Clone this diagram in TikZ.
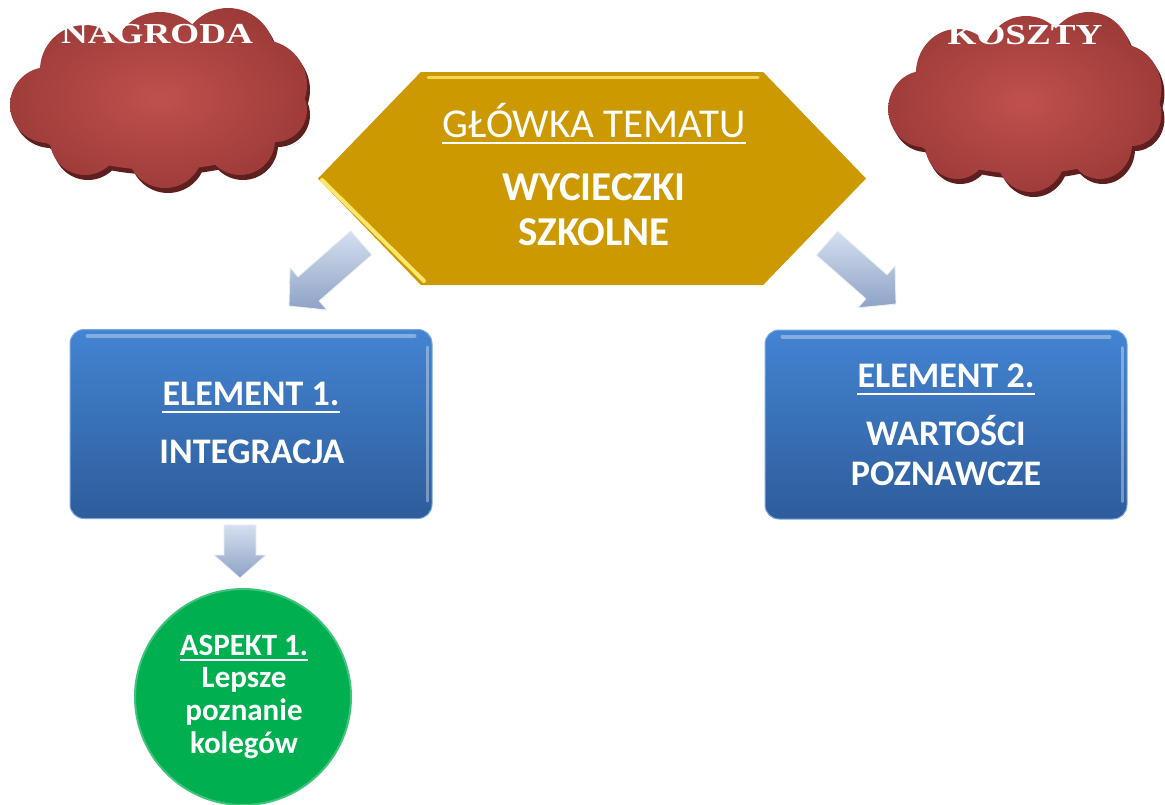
\documentclass[tikz,border=0pt]{standalone}
\usepackage{fontspec}
\setmainfont{Carlito}
\newfontfamily\cloudfont{Liberation Serif}
\usetikzlibrary{shapes.symbols,calc}
\definecolor{gold}{HTML}{CC9A00}
\definecolor{goldhi}{HTML}{FFE66E}
\definecolor{bluetop}{HTML}{4384D2}
\definecolor{bluebot}{HTML}{2E5C9B}
\definecolor{cloudin}{HTML}{C0504D}
\definecolor{cloudout}{HTML}{903432}
\definecolor{cloudshadow}{HTML}{5E1F1E}
\definecolor{aspgreen}{HTML}{00B050}
\definecolor{arrtop}{HTML}{D5DFEF}
\definecolor{arrbot}{HTML}{8EA2C6}
\pgfdeclareradialshading{cloudrad}{\pgfpoint{0bp}{0bp}}{color(0bp)=(cloudin); color(36bp)=(cloudout); color(50bp)=(cloudout)}
\newcommand{\cloudpath}{%
  (160,105) ellipse [x radius=140, y radius=65]
  (85,70) circle [radius=45]
  (160,60) circle [radius=48]
  (228,55) circle [radius=47]
  (262,85) circle [radius=45]
  (48,105) circle [radius=38]
  (85,140) circle [radius=35]
  (165,150) circle [radius=38]
  (240,140) circle [radius=35]
  (275,110) circle [radius=32]}
\newcommand{\blockarrowpath}[4]{% length, head width, body width, head length
  (0,0) -- (-#4,#2/2) -- (-#4,#3/2) -- (-#1,#3/2) -- (-#1,-#3/2) -- (-#4,-#3/2) -- (-#4,-#2/2) -- cycle}
\tikzset{
  cloudlabel/.style={text=white, inner sep=0pt, anchor=base, xscale=1.28,
    font=\cloudfont\bfseries\fontsize{29}{29}\selectfont},
  bluebox/.style={rectangle, rounded corners=14pt, minimum width=362pt, minimum height=189pt,
    top color=bluetop, bottom color=bluebot, draw=bluetop!70!white, line width=1pt},
  hdrtext/.style={text=white, inner sep=0pt, anchor=base, font=\fontsize{41}{41}\selectfont},
  bigtext/.style={text=white, inner sep=0pt, anchor=base, font=\bfseries\fontsize{41}{41}\selectfont},
  eltext/.style={text=white, inner sep=0pt, anchor=base, font=\bfseries\fontsize{36}{36}\selectfont},
  asptext/.style={text=white, inner sep=0pt, anchor=base, font=\bfseries\fontsize{31}{31}\selectfont},
  uline/.style={white, line width=2.5pt},
  arrowfill/.style={top color=arrtop, bottom color=arrbot, draw=arrtop!50!white, line width=0.8pt, line join=round},
  glare/.style={white, line cap=round, opacity=0.35}
}
\begin{document}
\begin{tikzpicture}[x=1pt,y=-1pt]
\useasboundingbox (0,0) rectangle (1165,804);
% clouds
\begin{scope}[shift={(3,5)}]
  \fill[cloudshadow] \cloudpath;
\end{scope}
\shade[shading=cloudrad] \cloudpath;
\begin{scope}[shift={(882,9)}, xscale=0.92]
  \fill[cloudshadow] \cloudpath;
\end{scope}
\begin{scope}[shift={(879,4)}, xscale=0.92]
  \shade[shading=cloudrad] \cloudpath;
\end{scope}
\coordinate (cl1) at (158,99);
\coordinate (cl2) at (1024,101);
\node[cloudlabel] (nag) at (157,43) {NAGRODA};
\node[cloudlabel] (kos) at (1025,44) {KOSZTY};
% hexagon
\node[signal, signal to=west and east, signal pointer angle=92, minimum width=548pt, minimum height=213pt,
  fill=gold, inner sep=0pt] (hex) at (592,178.5) {};
\draw[goldhi, line width=3pt, line cap=round, opacity=0.8] (428,77) -- (758,77);
\draw[goldhi, line width=4pt, line cap=round] (322,180) -- (424,281);
\node[hdrtext] (h1) at (594,137) {GŁÓWKA TEMATU};
\draw[uline] ($(h1.base west)+(0,6)$) -- ($(h1.base east)+(0,6)$);
\node[bigtext] (h2) at (594,200) {WYCIECZKI};
\node[bigtext] (h3) at (594,245) {SZKOLNE};
% element boxes
\node[bluebox] (el1) at (251,424) {};
\node[bluebox] (el2) at (946,424.5) {};
\foreach \b in {el1,el2}{
  \draw[glare, line width=4pt] ($(\b.north west)+(18,7)$) -- ($(\b.north east)+(-18,7)$);
  \draw[glare, line width=3pt] ($(\b.north east)+(-5,18)$) -- ($(\b.south east)+(-5,-18)$);
}
\node[eltext] (e1a) at (251,405) {ELEMENT 1.};
\draw[uline] ($(e1a.base west)+(0,7)$) -- ($(e1a.base east)+(0,7)$);
\node[eltext] (e1b) at (252,463) {INTEGRACJA};
\node[eltext] (e2a) at (946,387) {ELEMENT 2.};
\draw[uline] ($(e2a.base west)+(0,7)$) -- ($(e2a.base east)+(0,7)$);
\node[eltext] (e2b) at (946,445) {WARTOŚCI};
\node[eltext] (e2c) at (946,485) {POZNAWCZE};
% aspect circle
\node[circle, minimum size=216pt, inner sep=0pt, fill=aspgreen, draw=aspgreen!75!white, line width=2pt] (asp) at (243,697) {};
\node[asptext] (a1) at (244,655) {ASPEKT 1.};
\draw[uline, line width=2pt] ($(a1.base west)+(0,5)$) -- ($(a1.base east)+(0,5)$);
\node[asptext] (a2) at (244,687) {Lepsze};
\node[asptext] (a3) at (244,720) {poznanie};
\node[asptext] (a4) at (244,753) {kolegów};
% block arrows (connectors)
\coordinate (tipL) at (289,306);
\coordinate (tipR) at (896,304);
\coordinate (tipD) at (240,578);
\begin{scope}[shift={(tipL)}, rotate=221.2]
  \path[arrowfill] \blockarrowpath{96}{56}{32}{26};
\end{scope}
\begin{scope}[shift={(tipR)}, rotate=-41.4]
  \path[arrowfill] \blockarrowpath{92}{56}{32}{26};
\end{scope}
\begin{scope}[shift={(tipD)}, rotate=-90]
  \path[arrowfill] \blockarrowpath{53}{52}{32}{23};
\end{scope}
\end{tikzpicture}
\end{document}
